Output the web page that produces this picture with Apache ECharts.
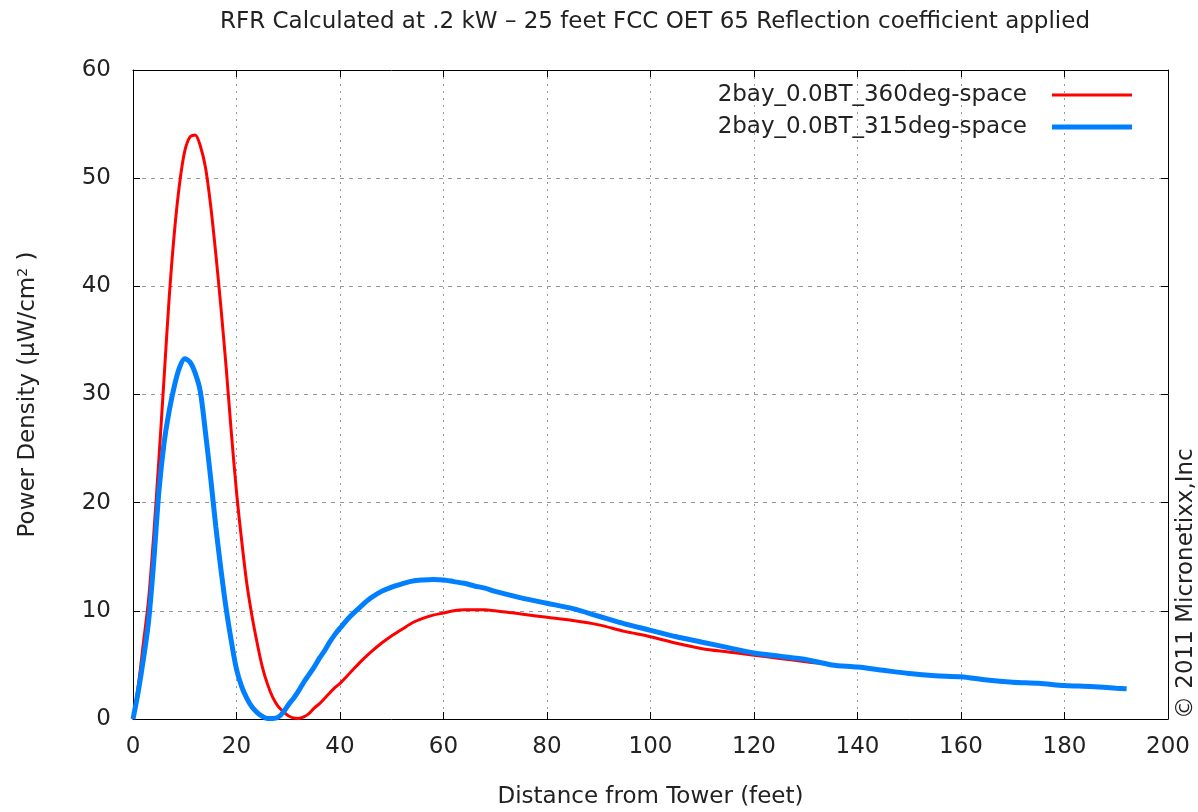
<!DOCTYPE html>
<html>
<head>
<meta charset="utf-8">
<script src="https://cdn.jsdelivr.net/npm/echarts@6/dist/echarts.min.js"></script>
<style>
  html, body { margin: 0; padding: 0; background: #fff; }
  #chart { width: 1198px; height: 812px; }
</style>
</head>
<body>
<div id="chart"></div>
<script>
// 2bay_0.0BT_360deg-space (red)
const distRed = [0, 1, 2, 3, 4, 5, 6, 7, 8, 9, 10, 11, 12, 13, 14, 15, 16, 17, 18, 19,
  20, 21, 22, 23, 24, 25, 26, 27, 28, 29, 30, 31, 32, 33, 34, 35, 36, 37, 38, 39,
  40, 42, 44, 46, 48, 50, 52, 54, 56, 58, 60, 62, 64, 66, 68, 70, 72, 75, 80, 85,
  90, 95, 100, 105, 110, 115, 120, 125, 130, 134];
const pdRed = [0, 3, 7, 11, 17, 24, 31.5, 39, 45, 49.5, 52.5, 53.8, 54, 53, 51, 47.5, 43, 38, 32.5, 26.5,
  21, 16.5, 12.5, 9.5, 7, 4.8, 3.2, 2, 1.2, 0.7, 0.3, 0.1, 0.05, 0.2, 0.5, 1, 1.4, 1.9, 2.4, 2.9,
  3.3, 4.3, 5.3, 6.2, 7.0, 7.7, 8.3, 8.9, 9.3, 9.6, 9.8, 10.0, 10.1, 10.1, 10.1, 10.0, 9.9, 9.7, 9.4, 9.1,
  8.7, 8.1, 7.6, 7.0, 6.5, 6.2, 5.9, 5.6, 5.3, 5.1];

// 2bay_0.0BT_315deg-space (blue)
const distBlue = [0, 1, 2, 3, 4, 5, 6, 7, 8, 9, 10, 11, 12, 13, 14, 15, 16, 17, 18, 19,
  20, 21, 22, 23, 24, 25, 26, 27, 28, 29, 30, 31, 32, 33, 34, 35, 36, 37, 38, 39,
  40, 42, 44, 46, 48, 50, 52, 54, 56, 58, 60, 62, 64, 66, 68, 70, 75, 80, 85, 90,
  95, 100, 105, 110, 115, 120, 125, 130, 135, 140, 145, 150, 155, 160, 165, 170, 175, 180, 185, 190, 192];
const pdBlue = [0, 2.5, 5.5, 9, 14.5, 21, 25.5, 28.5, 30.8, 32.5, 33.3, 33.0, 32.0, 30.3, 26.5, 22.3, 17.8, 13.8, 10.2, 7.2,
  4.6, 3, 1.9, 1.1, 0.6, 0.25, 0.05, 0.05, 0.15, 0.6, 1.3, 1.9, 2.6, 3.4, 4.1, 4.8, 5.6, 6.3, 7.1, 7.8,
  8.4, 9.5, 10.4, 11.2, 11.8, 12.2, 12.5, 12.75, 12.85, 12.9, 12.85, 12.7, 12.55, 12.3, 12.1, 11.8, 11.2, 10.7, 10.2, 9.5,
  8.8, 8.2, 7.6, 7.1, 6.6, 6.1, 5.8, 5.5, 5.0, 4.8, 4.5, 4.2, 4.0, 3.9, 3.6, 3.4, 3.3, 3.1, 3.0, 2.85, 2.8];

const seriesNames = ['2bay_0.0BT_360deg-space', '2bay_0.0BT_315deg-space'];
const xTicks = [0, 20, 40, 60, 80, 100, 120, 140, 160, 180, 200];
const yTicks = [0, 10, 20, 30, 40, 50, 60];

const FONT = 'DejaVu Sans';
const FS = 23;
const zip = (xs, ys) => xs.map((x, i) => [x, ys[i]]);

const myChart = echarts.init(document.getElementById('chart'));

const baseX = {
  type: 'value',
  min: xTicks[0],
  max: xTicks[xTicks.length - 1],
  interval: 20,
  axisLine: { show: true, onZero: false, lineStyle: { color: '#000', width: 1 } },
  axisTick: { show: true, inside: true, length: 7, lineStyle: { color: '#000' } },
};
const baseY = {
  type: 'value',
  min: yTicks[0],
  max: yTicks[yTicks.length - 1],
  interval: 10,
  axisLine: { show: true, onZero: false, lineStyle: { color: '#000', width: 1 } },
  axisTick: { show: true, inside: true, length: 7, lineStyle: { color: '#000' } },
};

myChart.setOption({
  animation: false,
  backgroundColor: '#fff',
  textStyle: { fontFamily: FONT },
  title: {
    text: 'RFR Calculated at .2 kW \u2013 25 feet FCC OET 65 Reflection coefficient applied',
    left: 650,
    textAlign: 'center',
    top: 6,
    textStyle: { fontFamily: FONT, fontSize: FS, fontWeight: 'normal', color: '#222' }
  },
  grid: { left: 133, right: 30, top: 70, bottom: 93, outerBoundsMode: 'none' },
  legend: {
    orient: 'vertical',
    right: 61,
    top: 78,
    align: 'right',
    itemWidth: 80,
    itemHeight: 14,
    itemGap: 8,
    textStyle: { fontFamily: FONT, fontSize: FS, color: '#222', lineHeight: 24, padding: [0, 20, 0, 0] },
    data: [
      { name: seriesNames[0], icon: 'path://M0 0H80V3H0Z' },
      { name: seriesNames[1], icon: 'path://M0 0H80V5H0Z' }
    ]
  },
  xAxis: [
    Object.assign({}, baseX, {
      position: 'bottom',
      name: 'Distance from Tower (feet)',
      nameLocation: 'middle',
      nameGap: 67,
      nameTextStyle: { fontFamily: FONT, fontSize: FS, color: '#222' },
      axisLabel: { margin: 17, fontSize: FS, color: '#222', fontFamily: FONT },
      splitLine: { show: true, lineStyle: { color: '#999', type: [2, 5], width: 1 } }
    }),
    Object.assign({}, baseX, {
      position: 'top',
      axisLabel: { show: false },
      splitLine: { show: false }
    })
  ],
  yAxis: [
    Object.assign({}, baseY, {
      position: 'left',
      name: 'Power Density (\u03bcW/cm{sup|2} )',
      nameLocation: 'middle',
      nameGap: 93,
      nameRotate: 90,
      nameTextStyle: {
        fontFamily: FONT, fontSize: FS, color: '#222',
        rich: { sup: { fontFamily: FONT, fontSize: 14, verticalAlign: 'top', padding: [0, 0, 10, 0], color: '#222' } }
      },
      axisLabel: { margin: 22, fontSize: FS, color: '#222', fontFamily: FONT },
      splitLine: { show: true, lineStyle: { color: '#999', type: [4, 5], width: 1 } }
    }),
    Object.assign({}, baseY, {
      position: 'right',
      axisLabel: { show: false },
      splitLine: { show: false }
    })
  ],
  graphic: [{
    type: 'text',
    x: 1186,
    y: 719,
    rotation: Math.PI / 2,
    style: {
      text: '\u00a9 2011 Micronetixx,Inc',
      font: FS + 'px "DejaVu Sans"',
      fill: '#222',
      align: 'left',
      verticalAlign: 'middle'
    }
  }],
  series: [
    {
      name: seriesNames[0],
      type: 'line',
      symbol: 'none',
      smooth: 0.3,
      color: '#ff0000',
      lineStyle: { color: '#ff0000', width: 3 },
      data: zip(distRed, pdRed)
    },
    {
      name: seriesNames[1],
      type: 'line',
      symbol: 'none',
      smooth: 0.3,
      color: '#0080ff',
      lineStyle: { color: '#0080ff', width: 5 },
      data: zip(distBlue, pdBlue)
    }
  ]
});
</script>
</body>
</html>
